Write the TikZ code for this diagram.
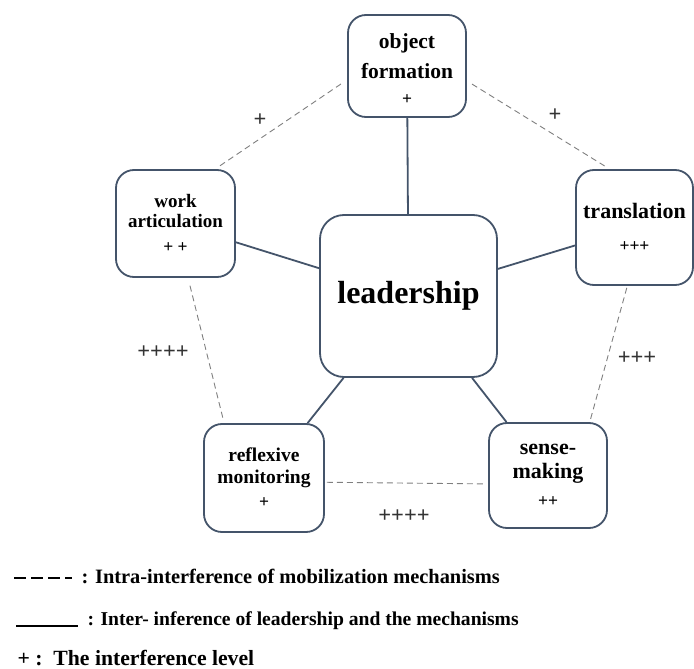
\documentclass[tikz,border=0pt]{standalone}
\usepackage{fontspec}
\setmainfont{Liberation Serif}
\usetikzlibrary{positioning}

\definecolor{slate}{HTML}{44546A}
\definecolor{dashgray}{HTML}{7F7F7F}
\definecolor{levelgray}{HTML}{333333}
\newcommand{\plusfont}{\fontsize{17.5}{17.5}\selectfont}

\tikzset{
  mech/.style={draw=slate, line width=1.8pt, rounded corners=18pt, fill=white, align=center, inner sep=0pt},
  lead/.style={mech, rounded corners=24pt, font=\fontsize{32}{32}\selectfont\bfseries},
  inter/.style={draw=slate, line width=1.8pt},
  intra/.style={draw=dashgray, line width=0.9pt, dash pattern=on 6pt off 4pt},
  level/.style={text=levelgray, font=\fontsize{22.5}{22.5}\selectfont\bfseries},
  legend/.style={anchor=base west, font=\fontsize{20}{20}\selectfont\bfseries},
}

\begin{document}
\begin{tikzpicture}[x=1pt,y=-1pt]
\useasboundingbox (0,0) rectangle (694,669);

% the mechanisms round leadership
\node[lead, minimum width=177pt, minimum height=162pt] (lead) at (408.5,296) {leadership};
\node[mech, minimum width=118pt, minimum height=102pt, font=\fontsize{21.5}{30}\selectfont\bfseries] (obj) at (407,66) {\rule{0pt}{22pt}object\\formation\\[-4pt]{\plusfont +}};
\node[mech, minimum width=119pt, minimum height=107pt, font=\fontsize{19}{20}\selectfont\bfseries] (work) at (175.5,223.5) {work\\articulation\\[5pt]{\plusfont + +}};
\node[mech, minimum width=117pt, minimum height=115pt, font=\fontsize{22}{33}\selectfont\bfseries] (trans) at (634.5,227.5) {translation\\{\plusfont +++}};
\node[mech, minimum width=120pt, minimum height=108pt, font=\fontsize{19.5}{21.5}\selectfont\bfseries] (refl) at (264,478) {reflexive\\monitoring\\[3pt]{\plusfont +}};
\node[mech, minimum width=118pt, minimum height=105pt, font=\fontsize{22}{23.5}\selectfont\bfseries] (sense) at (548,475.5) {sense-\\making\\[5pt]{\plusfont ++}};

% inter-interference
\draw[inter] (lead) -- (obj);
\draw[inter] (lead) -- (work);
\draw[inter] (lead) -- (trans);
\draw[inter] (lead) -- (refl);
\draw[inter] (lead) -- (sense);

% intra-interference
\draw[intra, shorten <=6pt, shorten >=6pt] (work.54) -- (obj.193);
\draw[intra, shorten <=6pt, shorten >=6pt] (obj.346) -- (trans.113);
\draw[intra, shorten <=8pt, shorten >=2pt] (work.283) -- (refl.126);
\draw[intra, shorten <=2pt, shorten >=3pt] (trans.263) -- (sense.52);
\draw[intra, shorten <=2pt, shorten >=2pt] (refl.356) -- (sense.188);

\node[level] (p1) at (260,120) {+};
\node[level] (p2) at (555,115) {+};
\node[level] (p3) at (163,352) {++++};
\node[level] (p4) at (637,358) {+++};
\node[level] (p5) at (404,516) {++++};

% legend
\coordinate (d1) at (14,578);
\coordinate (d2) at (72,578);
\draw[line width=1.2pt, dash pattern=on 12pt off 5pt] (d1) -- (d2);
\node[legend, font=\fontsize{20.4}{20.4}\selectfont\bfseries] (leg1) at (78,583) {: Intra-interference of mobilization mechanisms};
\coordinate (s1) at (16,626);
\coordinate (s2) at (78,626);
\draw[line width=1.2pt] (s1) -- (s2);
\node[legend, font=\fontsize{19.6}{19.6}\selectfont\bfseries] (leg2) at (84,625) {: Inter- inference of leadership and the mechanisms};
\node[legend, font=\fontsize{21.7}{21.7}\selectfont\bfseries] (leg3) at (14,665) {+ :\ \ The interference level};
\end{tikzpicture}
\end{document}
